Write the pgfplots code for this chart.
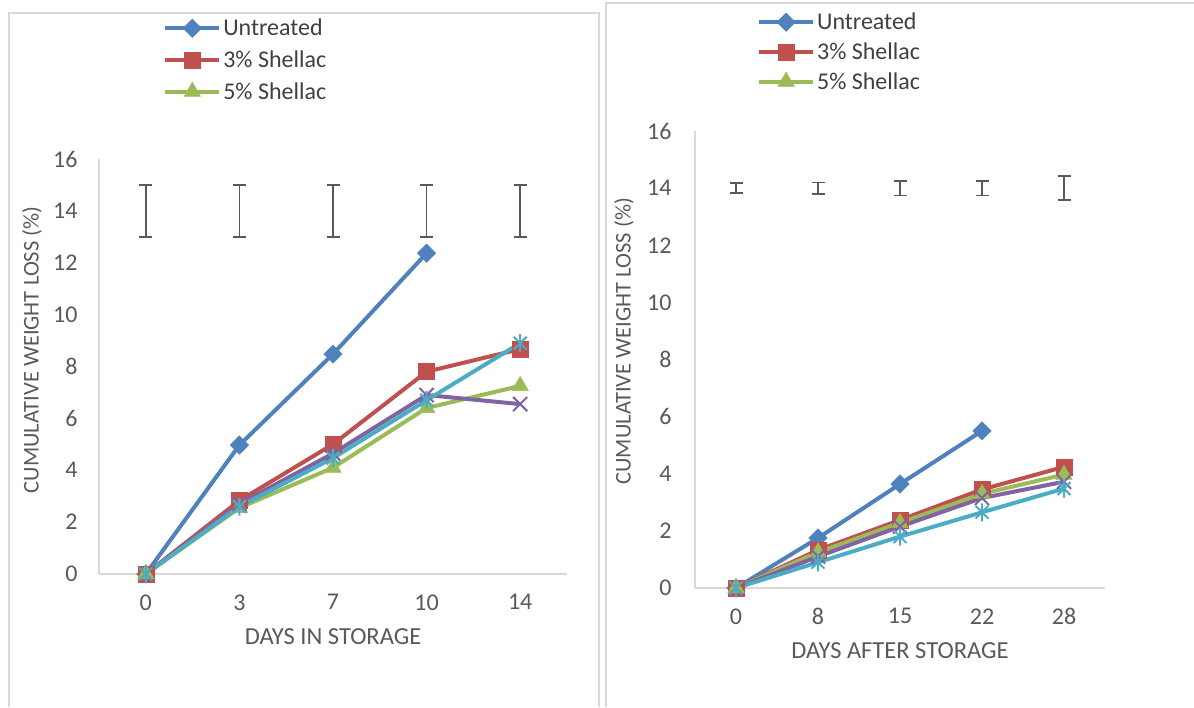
\documentclass[border=0pt]{standalone}
\usepackage{pgfplots}
\pgfplotsset{compat=1.18}
\usepackage{fontspec}
\setmainfont{Carlito}
\definecolor{cBlue}{HTML}{4F81BD}
\definecolor{cRed}{HTML}{C0504D}
\definecolor{cGreen}{HTML}{9BBB59}
\definecolor{cPurple}{HTML}{8064A2}
\definecolor{cCyan}{HTML}{4BACC6}
\definecolor{axgray}{HTML}{D9D9D9}
\definecolor{txgray}{HTML}{595959}
\definecolor{lgtext}{HTML}{404040}
\definecolor{errgray}{HTML}{595959}
\pgfdeclareplotmark{xstar}{%
  \pgfpathmoveto{\pgfqpoint{0pt}{\pgfplotmarksize}}%
  \pgfpathlineto{\pgfqpoint{0pt}{-\pgfplotmarksize}}%
  \pgfpathmoveto{\pgfqpoint{-.7071\pgfplotmarksize}{-.7071\pgfplotmarksize}}%
  \pgfpathlineto{\pgfqpoint{.7071\pgfplotmarksize}{.7071\pgfplotmarksize}}%
  \pgfpathmoveto{\pgfqpoint{-.7071\pgfplotmarksize}{.7071\pgfplotmarksize}}%
  \pgfpathlineto{\pgfqpoint{.7071\pgfplotmarksize}{-.7071\pgfplotmarksize}}%
  \pgfusepathqstroke}
\pgfplotsset{
  panel/.style={
    scale only axis,
    anchor=south west,
    axis x line*=bottom,
    axis y line*=left,
    axis line style={-, draw=axgray, line width=1.5pt},
    major tick length=0pt,
    xmin=-0.5, xmax=4.5, ymin=0, ymax=16,
    xtick={0,1,2,3,4},
    ytick={0,2,...,16},
    /pgf/number format/assume math mode=true,
    tick label style={font=\fontsize{24}{28}\selectfont, text=txgray},
    xticklabel style={yshift=-17pt},
    xlabel style={font=\fontsize{24.5}{29}\selectfont, text=txgray},
    ylabel style={font=\fontsize{22.5}{27}\selectfont, text=txgray},
    clip=false,
    legend style={draw=none, fill=none, anchor=north west,
      font=\fontsize{24}{28}\selectfont, text=lgtext,
      cells={anchor=west}, inner sep=0pt},
    legend image code/.code={\draw[mark repeat=2,mark phase=2] plot coordinates {(0pt,0pt)(27pt,0pt)(54pt,0pt)};},
  },
  sU/.style={cBlue, line width=4pt, mark=square*, mark size=6.5pt, mark options={rotate=45, solid, line width=0.5pt, fill=cBlue}},
  s3/.style={cRed, line width=4pt, mark=square*, mark size=8pt, mark options={solid, line width=0.5pt, fill=cRed}},
  s5/.style={cGreen, line width=4pt, mark=triangle*, mark size=9.5pt, mark options={solid, line width=0.5pt, fill=cGreen}},
  sP/.style={cPurple, line width=4pt, mark=x, mark size=10pt, mark options={solid, line width=2pt}},
  sC/.style={cCyan, line width=4pt, mark=xstar, mark size=9pt, mark options={solid, line width=2pt}},
  errs/.style={forget plot, only marks, mark=*, mark size=0pt,
    error bars/.cd, y dir=both, y explicit,
    error bar style={draw=errgray, line width=1.7pt, solid},
    error mark options={rotate=90, mark size=6.5pt, draw=errgray, line width=1.7pt}},
}
\begin{document}
\begin{tikzpicture}
\useasboundingbox (0pt,0pt) rectangle (1194pt,707pt);
\draw[axgray, line width=1.5pt] (9pt,0pt) -- (9pt,694pt) -- (599pt,694pt) -- (599pt,0pt);
\draw[axgray, line width=1.5pt] (606pt,0pt) -- (606pt,704pt) -- (1194pt,704pt);

\begin{axis}[panel,
  at={(99pt,133pt)}, width=468pt, height=415pt,
  xticklabels={0,3,7,10,14},
  yticklabel style={xshift=-18pt},
  xlabel={DAYS IN STORAGE},
  ylabel={CUMULATIVE WEIGHT LOSS (\%)},
  xlabel style={at={(axis description cs:0.5,-0.152)}, anchor=center},
  ylabel style={at={(axis description cs:-0.143,0.540)}, anchor=center},
  legend style={at={(axis description cs:0.137,1.342)}, row sep=9.5pt},
]
\addplot[sU] coordinates {(0,0)(1,4.97)(2,8.48)(3,12.37)};
\addlegendentry{Untreated}
\addplot[s3] coordinates {(0,0)(1,2.83)(2,5.0)(3,7.8)(4,8.67)};
\addlegendentry{3\% Shellac}
\addplot[s5] coordinates {(0,0)(1,2.55)(2,4.1)(3,6.4)(4,7.25)};
\addlegendentry{5\% Shellac}
\addplot[sP, forget plot] coordinates {(0,0)(1,2.7)(2,4.65)(3,6.9)(4,6.55)};
\addplot[sC, forget plot] coordinates {(0,0)(1,2.6)(2,4.47)(3,6.7)(4,8.9)};
\addplot[errs] table[x=x, y=y, y error=e] {
x y e
0 14 1
1 14 1
2 14 1
3 14 1
4 14 1
};
\end{axis}

\begin{axis}[panel,
  at={(695pt,119pt)}, width=410pt, height=457pt,
  xticklabels={0,8,15,22,28},
  yticklabel style={xshift=-20pt},
  xlabel={DAYS AFTER STORAGE},
  ylabel={CUMULATIVE WEIGHT LOSS (\%)},
  xlabel style={at={(axis description cs:0.5,-0.138)}, anchor=center},
  ylabel style={at={(axis description cs:-0.173,0.540)}, anchor=center},
  legend style={at={(axis description cs:0.151,1.2626)}, row sep=7.5pt},
]
\addplot[sU] coordinates {(0,0)(1,1.75)(2,3.64)(3,5.5)};
\addlegendentry{Untreated}
\addplot[s3] coordinates {(0,0)(1,1.33)(2,2.38)(3,3.45)(4,4.24)};
\addlegendentry{3\% Shellac}
\addplot[s5] coordinates {(0,0)(1,1.25)(2,2.28)(3,3.3)(4,3.97)};
\addlegendentry{5\% Shellac}
\addplot[sP, forget plot] coordinates {(0,0)(1,1.1)(2,2.15)(3,3.15)(4,3.72)};
\addplot[sC, forget plot] coordinates {(0,0)(1,0.9)(2,1.8)(3,2.65)(4,3.48)};
\addplot[errs] table[x=x, y=y, y error=e] {
x y e
0 14 0.17
1 14 0.2
2 14 0.26
3 14 0.26
4 14 0.42
};
\end{axis}
\end{tikzpicture}
\end{document}
